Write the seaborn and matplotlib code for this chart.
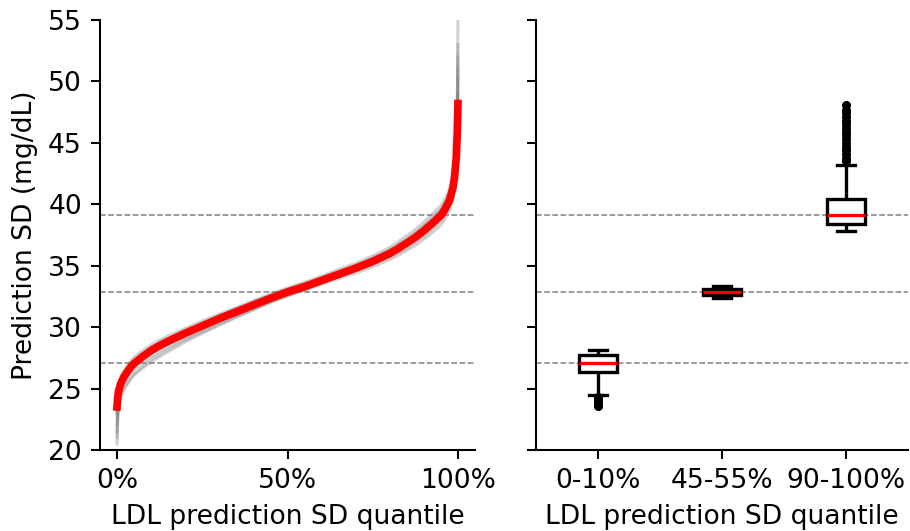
import numpy as np
import pandas as pd
import matplotlib
matplotlib.use("Agg")
import matplotlib.pyplot as plt
import seaborn as sns

# ---------------- data ----------------
q_grid = [0, 0.002, 0.005, 0.01, 0.02, 0.03, 0.04, 0.05, 0.075, 0.1, 0.125, 0.15,
          0.2, 0.25, 0.3, 0.35, 0.4, 0.45, 0.5, 0.55, 0.6, 0.65, 0.7, 0.75,
          0.8, 0.825, 0.85, 0.875, 0.9, 0.925, 0.95, 0.96, 0.975, 0.985, 0.99,
          0.995, 0.998, 1.0]

red_curve = [23.5, 24.3, 24.85, 25.35, 25.95, 26.35, 26.75, 27.05, 27.6, 28.1, 28.5, 28.85,
             29.5, 30.1, 30.7, 31.25, 31.8, 32.35, 32.86, 33.3, 33.8, 34.3, 34.8, 35.35,
             36.0, 36.4, 36.85, 37.3, 37.85, 38.45, 39.1, 39.5, 40.3, 41.3, 42.2,
             43.8, 45.8, 48.2]

gray_a = [20.5, 22.8, 23.85, 24.45, 25.05, 25.45, 25.85, 26.2, 26.8, 27.35, 27.8, 28.2,
          28.95, 29.6, 30.25, 30.85, 31.45, 32.05, 32.56, 33.0, 33.5, 33.95, 34.4, 34.9,
          35.5, 35.85, 36.25, 36.65, 37.15, 37.7, 38.3, 38.7, 39.5, 40.5, 41.5,
          43.3, 45.8, 50.2]
gray_b = [23.0, 24.6, 25.25, 25.8, 26.45, 26.85, 27.25, 27.55, 28.1, 28.55, 28.95, 29.3,
          29.9, 30.5, 31.05, 31.6, 32.15, 32.7, 33.2, 33.65, 34.15, 34.7, 35.2, 35.8,
          36.5, 36.95, 37.45, 37.95, 38.55, 39.2, 39.9, 40.35, 41.2, 42.3, 43.3,
          45.0, 48.0, 55.0]
gray_c = [21.5, 23.4, 24.2, 24.8, 25.45, 25.85, 26.25, 26.55, 27.1, 27.6, 28.0, 28.4,
          29.1, 29.75, 30.4, 30.95, 31.55, 32.1, 32.62, 33.08, 33.6, 34.1, 34.6, 35.1,
          35.7, 36.05, 36.45, 36.9, 37.4, 38.0, 38.65, 39.05, 39.85, 40.85, 41.8,
          43.5, 46.0, 52.0]
gray_d = [22.0, 24.0, 24.95, 25.55, 26.2, 26.6, 27.0, 27.3, 27.85, 28.35, 28.75, 29.1,
          29.75, 30.35, 30.95, 31.5, 32.05, 32.6, 33.1, 33.55, 34.05, 34.55, 35.05, 35.65,
          36.3, 36.75, 37.2, 37.7, 38.25, 38.9, 39.55, 40.0, 40.8, 41.8, 42.8,
          44.5, 47.0, 53.0]
gray_e = [21.0, 22.5, 23.5, 24.2, 24.9, 25.35, 25.75, 26.1, 26.65, 27.15, 27.6, 28.0,
          28.8, 29.5, 30.15, 30.8, 31.4, 32.0, 32.55, 33.05, 33.6, 34.1, 34.65, 35.2,
          35.85, 36.25, 36.7, 37.15, 37.7, 38.3, 38.95, 39.35, 40.15, 41.1, 42.0,
          43.6, 45.5, 49.0]
gray_f = [22.8, 23.9, 24.6, 25.1, 25.75, 26.15, 26.55, 26.85, 27.4, 27.9, 28.3, 28.7,
          29.4, 30.0, 30.6, 31.15, 31.7, 32.25, 32.78, 33.25, 33.78, 34.3, 34.85, 35.45,
          36.15, 36.6, 37.1, 37.6, 38.2, 38.85, 39.55, 40.0, 40.85, 41.9, 42.9,
          44.7, 47.0, 51.0]
gray_curves = [gray_a, gray_b, gray_c, gray_d, gray_e, gray_f]

group_labels = ["0-10%", "45-55%", "90-100%"]

group_low = [23.6, 23.7, 23.8, 23.9, 24.0, 24.1, 24.2, 24.3, 24.45, 25.6,
             26.37, 26.45, 26.55, 26.62, 26.7, 26.78, 26.85, 26.92, 26.98, 27.04,
             27.1, 27.16, 27.22, 27.28, 27.34, 27.4, 27.46, 27.52, 27.58, 27.64,
             27.7, 27.75, 27.8, 27.84, 27.88, 27.92, 27.96, 28.0, 28.04, 28.07, 28.1]

group_mid = [32.35, 32.42, 32.48, 32.53, 32.57, 32.6, 32.65, 32.7, 32.75, 32.8,
             32.86, 32.9, 32.95, 33.0, 33.05, 33.1, 33.15, 33.2, 33.25, 33.3, 33.35]

group_high = [37.85, 37.88, 37.91, 37.94, 37.97, 38.0, 38.03, 38.06, 38.09, 38.12,
              38.15, 38.18, 38.2, 38.22, 38.24, 38.26, 38.28, 38.3, 38.32, 38.35,
              38.37, 38.41, 38.45, 38.49, 38.53, 38.57, 38.61, 38.65, 38.69, 38.73,
              38.77, 38.81, 38.85, 38.89, 38.93, 38.97, 39.01, 39.05, 39.09, 39.11,
              39.13, 39.2, 39.26, 39.32, 39.38, 39.44, 39.5, 39.56, 39.62, 39.68,
              39.74, 39.8, 39.86, 39.92, 39.98, 40.04, 40.1, 40.18, 40.26, 40.33,
              40.4, 40.8, 41.4, 42.2, 43.2,
              43.5, 43.8, 44.1, 44.4, 44.7, 45.0, 45.3, 45.6, 45.9, 46.2, 46.5,
              46.8, 47.1, 47.4, 47.7, 48.1]

group_medians = [27.1, 32.86, 39.13]

x_ticks = [0, 0.5, 1.0]
x_ticklabels = ["0%", "50%", "100%"]
y_ticks = [20, 25, 30, 35, 40, 45, 50, 55]

# ---------------- tables ----------------
gray_df = pd.DataFrame({
    "rep": np.repeat(np.arange(len(gray_curves)), len(q_grid)),
    "q": np.tile(q_grid, len(gray_curves)),
    "sd": np.concatenate(gray_curves),
})
red_df = pd.DataFrame({"q": q_grid, "sd": red_curve})
box_df = pd.DataFrame({
    "group": [group_labels[0]] * len(group_low) + [group_labels[1]] * len(group_mid)
             + [group_labels[2]] * len(group_high),
    "sd": group_low + group_mid + group_high,
})

# ---------------- figure ----------------
plt.rcParams["font.size"] = 10.3
DPI = 185
fig = plt.figure(figsize=(910 / DPI, 531 / DPI), dpi=DPI)
ax1 = fig.add_axes([100 / 910, 81 / 531, 375 / 910, 430 / 531])
ax2 = fig.add_axes([536 / 910, 81 / 531, 372 / 910, 430 / 531], sharey=ax1)

for yv in group_medians:
    ax1.axhline(yv, color="gray", lw=0.6, ls="--", zorder=0)
    ax2.axhline(yv, color="gray", lw=0.6, ls="--", zorder=0)

sns.lineplot(data=gray_df, x="q", y="sd", units="rep", estimator=None,
             color="gray", alpha=0.35, lw=1.2, ax=ax1, legend=False)
sns.lineplot(data=red_df, x="q", y="sd", color="red", lw=3.0, ax=ax1,
             estimator=None, sort=False)

ax1.set_xticks(x_ticks)
ax1.set_xticklabels(x_ticklabels)
ax1.set_xlim(-0.05, 1.05)
ax1.set_ylim(20, 55)
ax1.set_yticks(y_ticks)
ax1.set_xlabel("LDL prediction SD quantile")
ax1.set_ylabel("Prediction SD (mg/dL)")

sns.boxplot(data=box_df, x="group", y="sd", order=group_labels, ax=ax2,
            width=0.3, color="white", linecolor="black", linewidth=1.3,
            medianprops={"color": "red"},
            flierprops={"marker": "o", "markersize": 2.5,
                        "markerfacecolor": "black", "markeredgecolor": "black"})
ax2.set_xlim(-0.5, 2.5)
ax2.set_xlabel("LDL prediction SD quantile")
ax2.set_ylabel("")
ax2.tick_params(labelleft=False)

for ax in (ax1, ax2):
    sns.despine(ax=ax)

fig.savefig("out.png", dpi=DPI)
